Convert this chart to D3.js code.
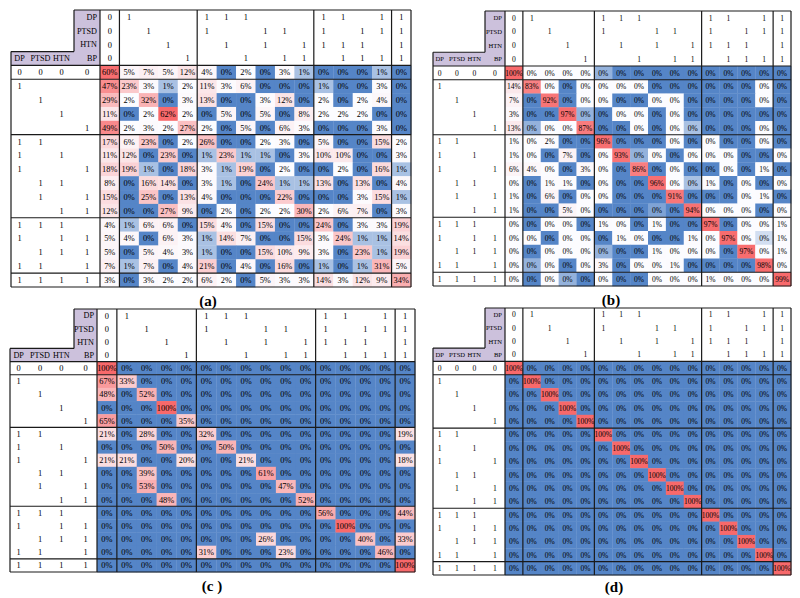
<!DOCTYPE html>
<html>
<head>
<meta charset="utf-8">
<script src="https://cdn.jsdelivr.net/npm/d3@7"></script>
<style>
  body { margin: 0; background: #fff; }
  svg { display: block; }
  text { font-family: "Liberation Serif", "Times New Roman", serif; fill: #000; }
</style>
</head>
<body>
<svg width="800" height="598"></svg>
<script>
// conditions and the 16 combinations (same order for rows and columns)
const conditions = ["DP", "PTSD", "HTN", "BP"];
const combos = [
  [0, 0, 0, 0],
  [1, 0, 0, 0], [0, 1, 0, 0], [0, 0, 1, 0], [0, 0, 0, 1],
  [1, 1, 0, 0], [1, 0, 1, 0], [1, 0, 0, 1], [0, 1, 1, 0], [0, 1, 0, 1], [0, 0, 1, 1],
  [1, 1, 1, 0], [1, 0, 1, 1], [0, 1, 1, 1], [1, 1, 0, 1],
  [1, 1, 1, 1]
];
const panelNames = ["(a)", "(b)", "(c )", "(d)"];

// percentages
const matrixA = [
  [60, 5, 7, 5, 12, 4, 0, 2, 0, 3, 1, 0, 0, 0, 1, 0],
  [47, 23, 3, 1, 2, 11, 3, 6, 0, 0, 0, 1, 0, 0, 3, 0],
  [29, 2, 32, 0, 3, 13, 0, 0, 3, 12, 0, 2, 0, 2, 4, 0],
  [11, 0, 2, 62, 2, 0, 5, 0, 5, 0, 8, 2, 2, 2, 0, 0],
  [49, 2, 3, 2, 27, 2, 0, 5, 0, 6, 3, 0, 0, 0, 3, 0],
  [17, 6, 23, 0, 2, 26, 0, 0, 2, 3, 0, 5, 0, 0, 15, 2],
  [11, 12, 0, 23, 0, 1, 23, 1, 1, 0, 3, 10, 10, 0, 0, 3],
  [18, 19, 1, 0, 18, 3, 1, 19, 0, 2, 0, 0, 2, 0, 16, 1],
  [8, 0, 16, 14, 0, 3, 1, 0, 24, 1, 1, 13, 0, 13, 0, 4],
  [15, 0, 25, 0, 13, 4, 0, 0, 0, 22, 0, 0, 0, 3, 15, 1],
  [12, 0, 0, 27, 9, 0, 2, 0, 2, 2, 30, 2, 6, 7, 0, 3],
  [4, 1, 6, 6, 0, 15, 4, 0, 15, 0, 0, 24, 0, 3, 3, 19],
  [5, 4, 0, 6, 3, 1, 14, 7, 0, 0, 15, 3, 24, 1, 1, 14],
  [5, 0, 5, 4, 3, 1, 0, 0, 15, 10, 9, 3, 0, 23, 1, 19],
  [7, 1, 7, 0, 4, 21, 0, 4, 0, 16, 0, 1, 0, 1, 31, 5],
  [3, 0, 3, 2, 2, 6, 2, 0, 5, 3, 3, 14, 3, 12, 9, 34]
];
// "0%" cells shaded white are small non-zero values (estimated)
const matrixB = [
  [100, .4, .4, .4, .4, .15, 0, 0, 0, 0, 0, 0, 0, 0, 0, 0],
  [14, 83, .4, 0, .4, .4, .4, .4, 0, 0, 0, 0, 0, 0, .4, 0],
  [7, 0, 92, 0, .4, .4, 0, 0, .4, .4, 0, 0, 0, 0, .4, 0],
  [3, 0, 0, 97, .15, 0, .4, .4, 0, .4, 0, 0, 0, 0, 0, 0],
  [13, .15, .4, .4, 87, 0, 0, .4, 0, .4, .2, 0, 0, 0, .4, 0],
  [1, .4, 2, 0, 0, 96, 0, 0, 0, .4, 0, .4, 0, 0, .4, 0],
  [1, .4, 0, 7, 0, .4, 93, .15, .4, 0, .4, .4, .4, 0, 0, .4],
  [6, 4, .4, 0, 3, .4, 0, 86, 0, .4, 0, 0, .4, 0, 1, 0],
  [.4, 0, 1, 1, 0, .4, 0, 0, 96, .4, .2, 1, 0, .4, 0, .4],
  [1, 0, 6, 0, .4, .4, 0, 0, 0, 91, 0, 0, 0, .4, 1, 0],
  [1, 0, 0, 5, .4, 0, 0, 0, .1, 0, 94, .4, .4, .4, 0, .4],
  [.4, 0, .4, .4, 0, 1, .4, 0, 1, 0, 0, 97, 0, .4, .4, 1],
  [.4, .4, 0, .4, .4, 0, 1, .4, 0, 0, 1, .4, 97, .4, .3, 1],
  [.4, 0, .4, .4, .4, .15, 0, 0, 1, .4, .4, .4, 0, 97, .4, 1],
  [.4, .15, .4, 0, .4, 3, 0, .4, .4, 1, 0, 0, 0, 0, 98, .4],
  [.4, 0, .4, .15, 0, .4, 0, 0, .4, .4, .4, 1, .4, .4, .4, 99]
];
const matrixC = [
  [100, 0, 0, 0, 0, 0, 0, 0, 0, 0, 0, 0, 0, 0, 0, 0],
  [67, 33, 0, 0, 0, 0, 0, 0, 0, 0, 0, 0, 0, 0, 0, 0],
  [48, 0, 52, 0, 0, 0, 0, 0, 0, 0, 0, 0, 0, 0, 0, 0],
  [0, 0, 0, 100, 0, 0, 0, 0, 0, 0, 0, 0, 0, 0, 0, 0],
  [65, 0, 0, 0, 35, 0, 0, 0, 0, 0, 0, 0, 0, 0, 0, 0],
  [21, 0, 28, 0, 0, 32, 0, 0, 0, 0, 0, 0, 0, 0, 0, 19],
  [0, 0, 0, 50, 0, 0, 50, 0, 0, 0, 0, 0, 0, 0, 0, 0],
  [21, 21, 0, 0, 20, 0, 0, 21, 0, 0, 0, 0, 0, 0, 0, 18],
  [0, 0, 39, 0, 0, 0, 0, 0, 61, 0, 0, 0, 0, 0, 0, 0],
  [0, 0, 53, 0, 0, 0, 0, 0, 0, 47, 0, 0, 0, 0, 0, 0],
  [0, 0, 0, 48, 0, 0, 0, 0, 0, 0, 52, 0, 0, 0, 0, 0],
  [0, 0, 0, 0, 0, 0, 0, 0, 0, 0, 0, 56, 0, 0, 0, 44],
  [0, 0, 0, 0, 0, 0, 0, 0, 0, 0, 0, 0, 100, 0, 0, 0],
  [0, 0, 0, 0, 0, 0, 0, 0, 26, 0, 0, 0, 0, 40, 0, 33],
  [0, 0, 0, 0, 0, 31, 0, 0, 0, 23, 0, 0, 0, 0, 46, 0],
  [0, 0, 0, 0, 0, 0, 0, 0, 0, 0, 0, 0, 0, 0, 0, 100]
];
const matrixD = [
  [100, 0, 0, 0, 0, 0, 0, 0, 0, 0, 0, 0, 0, 0, 0, 0],
  [0, 100, 0, 0, 0, 0, 0, 0, 0, 0, 0, 0, 0, 0, 0, 0],
  [0, 0, 100, 0, 0, 0, 0, 0, 0, 0, 0, 0, 0, 0, 0, 0],
  [0, 0, 0, 100, 0, 0, 0, 0, 0, 0, 0, 0, 0, 0, 0, 0],
  [0, 0, 0, 0, 100, 0, 0, 0, 0, 0, 0, 0, 0, 0, 0, 0],
  [0, 0, 0, 0, 0, 100, 0, 0, 0, 0, 0, 0, 0, 0, 0, 0],
  [0, 0, 0, 0, 0, 0, 100, 0, 0, 0, 0, 0, 0, 0, 0, 0],
  [0, 0, 0, 0, 0, 0, 0, 100, 0, 0, 0, 0, 0, 0, 0, 0],
  [0, 0, 0, 0, 0, 0, 0, 0, 100, 0, 0, 0, 0, 0, 0, 0],
  [0, 0, 0, 0, 0, 0, 0, 0, 0, 100, 0, 0, 0, 0, 0, 0],
  [0, 0, 0, 0, 0, 0, 0, 0, 0, 0, 100, 0, 0, 0, 0, 0],
  [0, 0, 0, 0, 0, 0, 0, 0, 0, 0, 0, 100, 0, 0, 0, 0],
  [0, 0, 0, 0, 0, 0, 0, 0, 0, 0, 0, 0, 100, 0, 0, 0],
  [0, 0, 0, 0, 0, 0, 0, 0, 0, 0, 0, 0, 0, 100, 0, 0],
  [0, 0, 0, 0, 0, 0, 0, 0, 0, 0, 0, 0, 0, 0, 100, 0],
  [0, 0, 0, 0, 0, 0, 0, 0, 0, 0, 0, 0, 0, 0, 0, 100]
];

var svg = d3.select("svg");
var blue = "#5585C7", white = "#FCFCFF", red = "#F8696B", purple = "#CCC1DC";
var pct = d3.format(".0%");

// layout of each panel
var panels = [
  { m: matrixA, x0: 11, xLab: 74, xData: 100, x1: 411, y0: 10, y1: 287, fs: 8.4, hfs: 8.4, lfs: 8.2, lx: 208, ly: 306 },
  { m: matrixB, x0: 433, xLab: 485, xData: 505, x1: 791, y0: 11, y1: 286, fs: 7.5, hfs: 7.6, lfs: 6.6, lx: 611, ly: 305 },
  { m: matrixC, x0: 10, xLab: 74, xData: 97, x1: 415, y0: 309, y1: 572, fs: 8.4, hfs: 8.4, lfs: 8.2, lx: 212, ly: 591 },
  { m: matrixD, x0: 433, xLab: 485, xData: 505, x1: 791, y0: 308, y1: 575, fs: 7.5, hfs: 7.6, lfs: 6.6, lx: 614, ly: 592 }
];

panels.forEach(function (p, pi) {
  let g = svg.append("g");
  let rows = d3.scaleBand().domain(d3.range(20)).range([p.y0, p.y1]);
  let cols = d3.scaleBand().domain(d3.range(16)).range([p.xData, p.x1]);
  let hdr = d3.scaleBand().domain([0, 1, 2]).range([p.x0, p.xLab]);
  let hdrX = function (i) { return i < 3 ? hdr(i) + hdr.bandwidth() / 2 - 2 : (p.xLab + p.xData) / 2; };

  // 3-colour scale: min blue, median white, max red (whole matrix)
  let vals = p.m.flat().sort(d3.ascending);
  let vMin = d3.min(vals), vMid = d3.quantile(vals, 0.5), vMax = d3.max(vals);
  let lo = d3.scaleLinear().domain([vMin, vMid]).range([blue, white]).interpolate(d3.interpolateRgb).clamp(true);
  let hi = d3.scaleLinear().domain([vMid, vMax]).range([white, red]).interpolate(d3.interpolateRgb).clamp(true);
  let colour = function (v) {
    if (v <= vMin) return blue;
    return v <= vMid ? lo(v) : hi(v);
  };

  let cells = [];
  p.m.forEach(function (row, r) {
    row.forEach(function (v, c) { cells.push({ r: r, c: c, v: v }); });
  });

  // purple label area
  g.append("rect").attr("x", p.xLab).attr("y", p.y0)
    .attr("width", p.xData - p.xLab).attr("height", rows(4) - p.y0).attr("fill", purple);
  g.append("rect").attr("x", p.x0).attr("y", rows(3))
    .attr("width", p.xLab - p.x0).attr("height", rows.bandwidth()).attr("fill", purple);

  g.selectAll("rect.cell").data(cells).enter().append("rect")
    .attr("class", "cell")
    .attr("x", d => cols(d.c)).attr("y", d => rows(d.r + 4))
    .attr("width", cols.bandwidth() + 0.3).attr("height", rows.bandwidth() + 0.3)
    .attr("fill", d => colour(d.v));

  g.selectAll("text.cell").data(cells).enter().append("text")
    .attr("class", "cell")
    .attr("x", d => cols(d.c) + cols.bandwidth() / 2)
    .attr("y", d => rows(d.r + 4) + rows.bandwidth() / 2)
    .attr("dy", "0.35em").attr("text-anchor", "middle")
    .style("font-size", p.fs + "px")
    .text(d => pct(d.v / 100));

  // column header labels (right aligned in purple column)
  conditions.forEach(function (name, i) {
    g.append("text")
      .attr("x", p.xData - 3).attr("y", rows(i) + rows.bandwidth() / 2)
      .attr("dy", "0.35em").attr("text-anchor", "end")
      .style("font-size", p.lfs + "px").text(name);
    if (i < 3) {
      g.append("text")
        .attr("x", hdrX(i)).attr("y", rows(3) + rows.bandwidth() / 2)
        .attr("dy", "0.35em").attr("text-anchor", "middle")
        .style("font-size", p.lfs + "px").text(name);
    }
  });

  // 0/1 flags
  combos.forEach(function (flags, k) {
    flags.forEach(function (f, i) {
      let t = k === 0 ? "0" : (f ? "1" : "");
      if (!t) return;
      g.append("text")
        .attr("x", cols(k) + cols.bandwidth() / 2).attr("y", rows(i) + rows.bandwidth() / 2)
        .attr("dy", "0.35em").attr("text-anchor", "middle")
        .style("font-size", p.hfs + "px").text(t);
      g.append("text")
        .attr("x", hdrX(i)).attr("y", rows(k + 4) + rows.bandwidth() / 2)
        .attr("dy", "0.35em").attr("text-anchor", "middle")
        .style("font-size", p.hfs + "px").text(t);
    });
  });

  // grid lines
  let lines = [
    [p.xLab, p.y0, p.x1, p.y0],
    [p.x0, rows(3), p.xLab, rows(3)],
    [p.xLab, p.y0, p.xLab, rows(3)],
    [p.x0, rows(3), p.x0, p.y1],
    [p.xData, p.y0, p.xData, p.y1],
    [p.x1, p.y0, p.x1, p.y1],
    [p.x0, p.y1, p.x1, p.y1]
  ];
  [1, 5, 11, 15].forEach(function (c) {
    lines.push([cols(c), p.y0, cols(c), p.y1]);
  });
  [4, 5, 9, 15, 19].forEach(function (r) {
    lines.push([p.x0, rows(r), p.x1, rows(r)]);
  });
  g.selectAll("line").data(lines).enter().append("line")
    .attr("x1", d => d[0]).attr("y1", d => d[1])
    .attr("x2", d => d[2]).attr("y2", d => d[3])
    .attr("stroke", "#1a1a1a").attr("stroke-width", 1.2);

  g.append("text")
    .attr("x", p.lx).attr("y", p.ly).attr("text-anchor", "middle")
    .style("font-size", "15px").style("font-weight", "bold")
    .text(panelNames[pi]);
});
</script>
</body>
</html>
